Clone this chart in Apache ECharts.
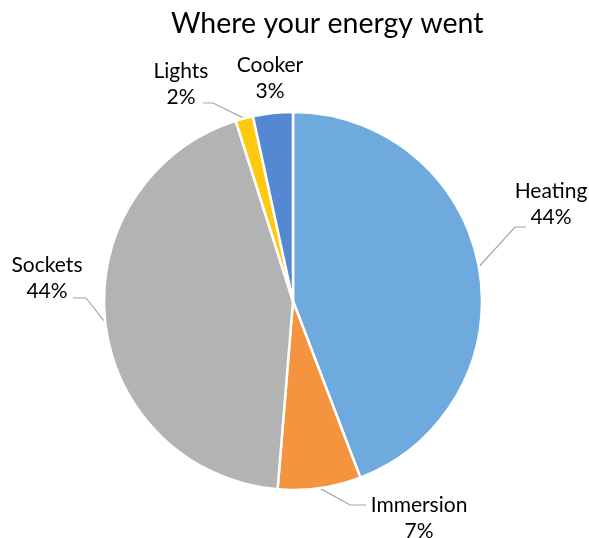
<!DOCTYPE html>
<html>
<head>
<meta charset="utf-8">
<title>Where your energy went</title>
<script src="https://cdn.jsdelivr.net/npm/echarts@6/dist/echarts.min.js"></script>
<style>
  html, body { margin: 0; padding: 0; background: #fff; }
  #chart { width: 589px; height: 538px; }
</style>
</head>
<body>
<div id="chart"></div>
<script>
// Energy use by circuit (share of total)
const categories = ['Heating', 'Immersion', 'Sockets', 'Lights', 'Cooker'];
const shares = [44.2, 7.1, 43.8, 1.5, 3.4];
const sliceColors = ['#6EAADD', '#F4943F', '#B3B3B3', '#FFC90E', '#5588D3'];

// Label placement: text block centre and the bend of each leader line
const labelSpots = {
  Heating:   { x: 551, y: 204, bend: [[515, 227], [526, 227]] },
  Immersion: { x: 419, y: 518, bend: [[350, 505], [366, 505]] },
  Sockets:   { x: 47,  y: 278, bend: [[86, 298], [73, 298]] },
  Lights:    { x: 181, y: 84,  bend: [[213, 103], [203, 103]] },
  Cooker:    { x: 270, y: 78,  bend: null }
};

const chart = echarts.init(document.getElementById('chart'), null, { renderer: 'canvas' });

const data = categories.map((name, i) => ({
  name: name,
  value: shares[i],
  itemStyle: { color: sliceColors[i] },
  labelLine: { show: labelSpots[name].bend !== null }
}));

chart.setOption({
  animation: false,
  title: {
    text: 'Where your energy went',
    left: 166,
    top: 4,
    textStyle: { fontFamily: 'Lato', fontSize: 28.5, fontWeight: 'normal', color: '#000' }
  },
  series: [{
    type: 'pie',
    center: [293, 301],
    radius: [0, 189],
    startAngle: 90,
    clockwise: true,
    percentPrecision: 0,
    avoidLabelOverlap: false,
    data: data,
    itemStyle: { borderColor: '#fff', borderWidth: 2.5 },
    label: {
      show: true,
      position: 'outside',
      formatter: '{b}\n{d}%',
      fontFamily: 'Lato',
      fontSize: 21,
      lineHeight: 26,
      color: '#000',
      align: 'center'
    },
    labelLine: {
      show: true,
      length: 10,
      length2: 10,
      lineStyle: { color: '#A6A6A6', width: 1.2 }
    },
    emphasis: { disabled: true },
    labelLayout: function (params) {
      const name = categories[params.dataIndex];
      const spot = labelSpots[name];
      const out = { x: spot.x, y: spot.y, align: 'center', verticalAlign: 'middle' };
      if (spot.bend && params.labelLinePoints) {
        const start = params.labelLinePoints[0];
        out.labelLinePoints = [start, spot.bend[0], spot.bend[1]];
      }
      return out;
    }
  }]
});
</script>
</body>
</html>
